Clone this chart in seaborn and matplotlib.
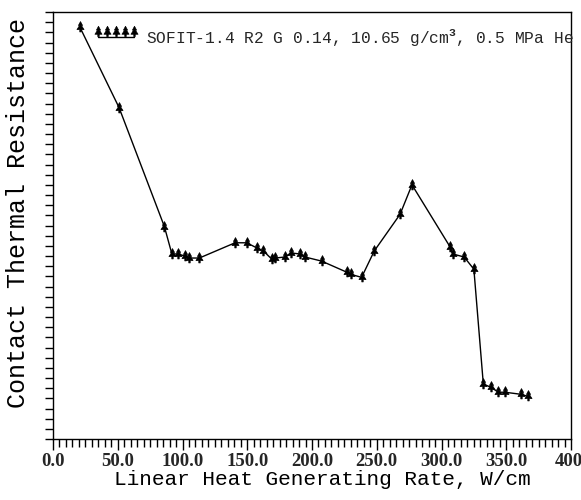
import numpy as np
import pandas as pd
import matplotlib
matplotlib.use("Agg")
import matplotlib.pyplot as plt
from matplotlib.path import Path
from matplotlib.lines import Line2D
import seaborn as sns

# Linear heat generating rate (W/cm)
heat_rate = [20.8, 51.0, 86.0, 91.8, 96.4, 101.8, 105.1, 113.0, 140.6, 149.6,
             157.3, 162.4, 168.9, 171.4, 179.2, 183.8, 190.7, 194.6, 207.4, 227.0,
             229.8, 238.3, 248.1, 268.0, 277.2, 306.6, 308.7, 317.5, 325.0, 332.3,
             338.0, 343.9, 349.0, 361.2, 366.6]
# Contact thermal resistance (arbitrary units, no labels)
resistance = [40.5, 32.6, 20.9, 18.2, 18.2, 18.0, 17.8, 17.8, 19.3, 19.3,
              18.8, 18.5, 17.7, 17.8, 17.9, 18.3, 18.2, 17.9, 17.5, 16.4,
              16.2, 15.9, 18.5, 22.1, 25.0, 18.9, 18.2, 17.9, 16.7, 5.4,
              5.1, 4.6, 4.6, 4.4, 4.2]

x_ticks = [0, 50, 100, 150, 200, 250, 300, 350, 400]
x_tick_labels = ["0.0", "50.0", "100.0", "150.0", "200.0", "250.0", "300.0", "350.0", "400."]
legend_label = "SOFIT-1.4 R2 G 0.14, 10.65 g/cm$^{\\mathbf{3}}$, 0.5 MPa He"

df = pd.DataFrame({"rate": heat_rate, "res": resistance})

sns.set_theme(style="ticks")
plt.rcParams["font.family"] = ["Liberation Mono", "DejaVu Sans Mono"]
plt.rcParams["mathtext.fontset"] = "custom"
plt.rcParams["mathtext.rm"] = "Liberation Mono"
plt.rcParams["mathtext.bf"] = "Liberation Mono:bold"

# tree-like marker
tree_verts = [(0, 1.0), (-0.35, 0.35), (-0.15, 0.35), (-0.6, -0.35), (-0.12, -0.35),
              (-0.12, -0.75), (0.12, -0.75), (0.12, -0.35), (0.6, -0.35), (0.15, 0.35),
              (0.35, 0.35), (0, 1.0)]
codes = [Path.MOVETO] + [Path.LINETO] * 10 + [Path.CLOSEPOLY]
tree = Path(tree_verts, codes)
up = 0.9
tree_up = Path([(vx, vy + up) for vx, vy in tree_verts], codes)

fig = plt.figure(figsize=(5.81, 5.0), dpi=100)
ax = fig.add_axes([53 / 581, 61 / 500, 518 / 581, 427 / 500])

msize = 8.5
sns.lineplot(data=df, x="rate", y="res", ax=ax, color="black", linewidth=1.0,
             sort=False, estimator=None, marker=tree, markersize=msize,
             markerfacecolor="black", markeredgecolor="black", markeredgewidth=0.5)

ax.set_xlim(0, 400)
ax.set_ylim(0, 42)
ax.set_xticks(x_ticks)
ax.set_xticklabels(x_tick_labels, fontsize=13.5, family=["Liberation Serif"], fontweight="bold")
ax.set_xticks(np.arange(0, 401, 5), minor=True)
ax.set_yticks(np.arange(0, 43, 1))
ax.set_yticklabels([])
ax.tick_params(axis="x", which="major", direction="out", length=8, width=1, color="black", pad=2)
ax.tick_params(axis="x", which="minor", direction="out", length=6, width=1, color="black")
ax.tick_params(axis="y", which="major", direction="out", length=6, width=1, color="black")
for s in ax.spines.values():
    s.set_visible(True)
    s.set_color("black")
    s.set_linewidth(1.0)

ax.set_xlabel("Linear Heat Generating Rate, W/cm", fontsize=15.2, color="black")
ax.xaxis.set_label_coords(0.519, -0.072)
ax.set_ylabel("Contact Thermal Resistance", fontsize=18, color="black")
ax.yaxis.set_label_coords(-0.045, 0.53)

scale = (1.0 + up) / 1.0
handle = Line2D([], [], color="black", linewidth=1.0, marker=tree_up, markersize=msize * scale,
                markerfacecolor="black", markeredgecolor="black", markeredgewidth=0.5)
leg = ax.legend([handle], [legend_label], loc="upper left", bbox_to_anchor=(0.05, 1.0),
                frameon=False, numpoints=5, handlelength=2.8, handletextpad=0.45,
                fontsize=11.7, borderaxespad=0.5)

ax.grid(False)
fig.savefig("out.png", dpi=100)
